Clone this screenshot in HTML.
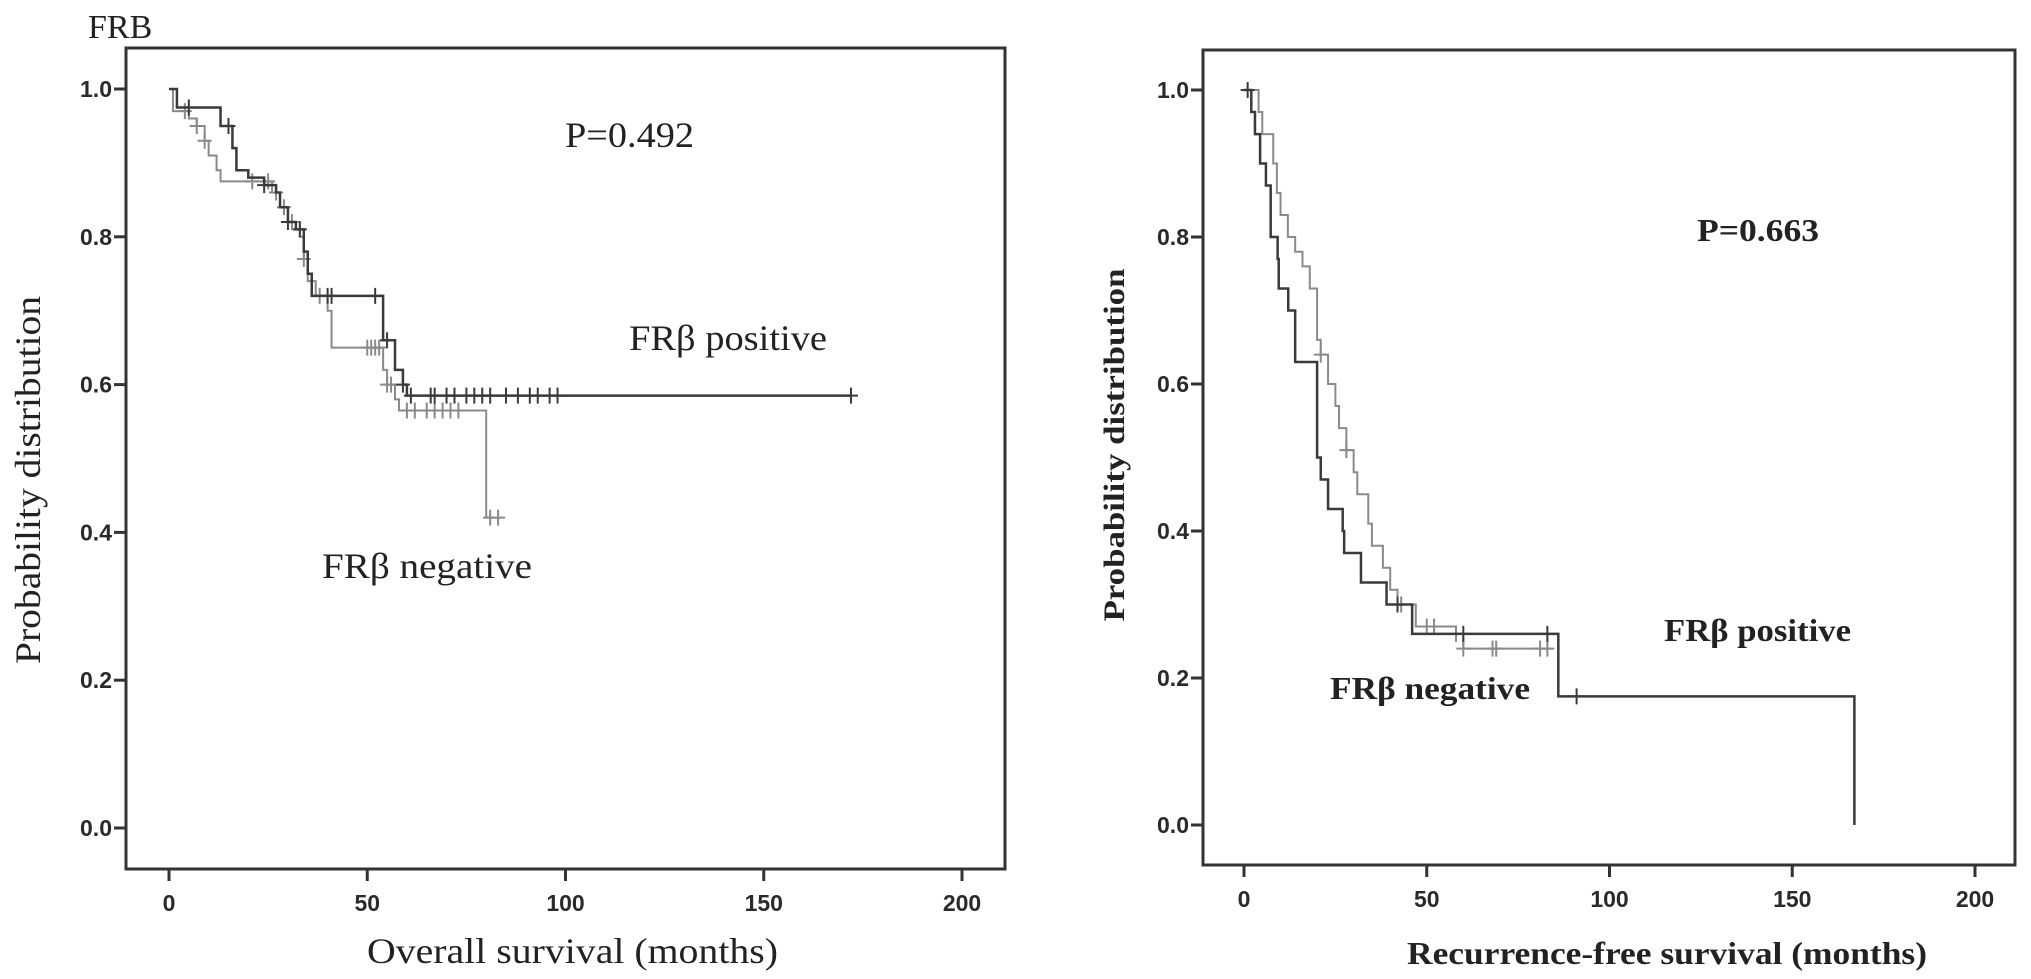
<!DOCTYPE html>
<html><head><meta charset="utf-8"><style>
html,body{margin:0;padding:0;background:#fff;width:2031px;height:979px;overflow:hidden}
svg text.tick{font-family:"Liberation Sans",sans-serif;font-size:23px;fill:#2a2a2a;font-weight:bold}
svg text.ser{font-family:"Liberation Serif",serif;fill:#222}
</style></head><body>
<svg id="chart" width="2031" height="979" viewBox="0 0 2031 979" xmlns="http://www.w3.org/2000/svg">
<text class="ser" x="88" y="38" font-size="34">FRB</text>
<g id="left"></g>
<g id="right"></g>
<text class="ser" x="565" y="147" font-size="36" textLength="129" lengthAdjust="spacingAndGlyphs">P=0.492</text>
<text class="ser" x="629" y="350" font-size="36" textLength="198" lengthAdjust="spacingAndGlyphs">FRβ positive</text>
<text class="ser" x="322" y="578" font-size="36" textLength="210" lengthAdjust="spacingAndGlyphs">FRβ negative</text>
<text class="ser" x="367" y="963" font-size="36" textLength="411" lengthAdjust="spacingAndGlyphs">Overall survival (months)</text>
<text class="ser" transform="translate(40,480) rotate(-90)" text-anchor="middle" font-size="36" textLength="368" lengthAdjust="spacingAndGlyphs">Probability distribution</text>
<text class="ser" x="1697" y="241" font-size="32" font-weight="bold" textLength="122" lengthAdjust="spacingAndGlyphs">P=0.663</text>
<text class="ser" x="1664" y="641" font-size="32" font-weight="bold" textLength="187" lengthAdjust="spacingAndGlyphs">FRβ positive</text>
<text class="ser" x="1330" y="699" font-size="32" font-weight="bold" textLength="200" lengthAdjust="spacingAndGlyphs">FRβ negative</text>
<text class="ser" x="1407" y="964" font-size="32" font-weight="bold" textLength="520" lengthAdjust="spacingAndGlyphs">Recurrence-free survival (months)</text>
<text class="ser" transform="translate(1124,445) rotate(-90)" text-anchor="middle" font-size="30" font-weight="bold" textLength="353" lengthAdjust="spacingAndGlyphs">Probability distribution</text>
</svg>
<script>
const xTicks=[0,50,100,150,200];
const yTicks=[0.0,0.2,0.4,0.6,0.8,1.0];
const yTickLabels=["0.0","0.2","0.4","0.6","0.8","1.0"];
// Overall survival: step times and survival values
const osPosT=[0,2,13,16,17,20,24,27,28,30,32,34,35,36,54,57,59,60,172];
const osPosS=[1.0,0.975,0.95,0.92,0.89,0.88,0.87,0.86,0.84,0.82,0.81,0.78,0.75,0.72,0.66,0.62,0.60,0.585,0.585];
const osPosCT=[5,15,24,30,33,40,41,52,55,59,61,66,67,70,72,75,77,79,81,85,88,91,93,96,98,172];
const osNegT=[0,1,5,7,9,10,12,13,26,28,30,33,34,35,37,40,41,53,54,55,57,58,80,83];
const osNegS=[1.0,0.97,0.96,0.95,0.93,0.91,0.89,0.875,0.86,0.84,0.82,0.80,0.77,0.74,0.72,0.70,0.65,0.65,0.62,0.60,0.58,0.565,0.42,0.42];
const osNegCT=[4,7,9,21,25,27,29,31,34,38,50,51,52,53,55,56,60,62,65,67,69,71,73,81,83];
// Recurrence-free survival
const rfsPosT=[0,2,3,4.4,6,7.3,9.2,9.5,12.1,14,20,21,23,27,27.4,32,39,46,86,167];
const rfsPosS=[1.0,0.97,0.94,0.90,0.87,0.80,0.77,0.73,0.70,0.63,0.50,0.47,0.43,0.40,0.37,0.33,0.30,0.26,0.175,0.0];
const rfsPosCT=[1,42,60,83,91];
const rfsNegT=[0,3,4,5,8,9,10,12,14,16,18,20,21,23,25,26,28,30,31,34,35,38,40,42,47,58,60,84];
const rfsNegS=[1.0,1.0,0.97,0.94,0.90,0.86,0.83,0.80,0.78,0.76,0.73,0.66,0.64,0.60,0.57,0.54,0.51,0.48,0.45,0.41,0.38,0.35,0.32,0.30,0.27,0.26,0.24,0.24];
const rfsNegCT=[21,28,43,50,52,58,60,68,69,81,83];

const NS="http://www.w3.org/2000/svg";
function mk(tag,attrs,parent){const e=document.createElementNS(NS,tag);for(const k in attrs)e.setAttribute(k,attrs[k]);parent.appendChild(e);return e;}
function survAt(T,S,t){let v=S[0];for(let i=0;i<T.length;i++){if(T[i]<=t)v=S[i];}return v;}

function panel(g,cfg){
  const X=t=>cfg.x0+t*cfg.xs, Y=p=>cfg.y0-p*cfg.ys;
  const frame=mk('rect',{x:cfg.L,y:cfg.T,width:cfg.R-cfg.L,height:cfg.B-cfg.T,fill:'none',stroke:'#333','stroke-width':3},g);
  
  
  xTicks.forEach(v=>{
    const l=mk('line',{x1:X(v),x2:X(v),y1:cfg.B,y2:cfg.B+12,stroke:'#333','stroke-width':3},g);
    
    
    const t=mk('text',{x:X(v),y:cfg.B+42,'text-anchor':'middle',class:'tick'},g);
    t.textContent=String(v);
    
    
  });
  yTicks.forEach((v,i)=>{
    const l=mk('line',{x1:cfg.L-12,x2:cfg.L,y1:Y(v),y2:Y(v),stroke:'#333','stroke-width':3},g);
    
    
    const t=mk('text',{x:cfg.L-14,y:Y(v)+8,'text-anchor':'end',class:'tick'},g);
    t.textContent=yTickLabels[i];
    
    
  });
  cfg.series.forEach(s=>{
    let d='M'+X(s.T[0])+','+Y(s.S[0]);
    for(let i=1;i<s.T.length;i++){d+=' H'+X(s.T[i])+' V'+Y(s.S[i]);}
    const p=mk('path',{d:d,fill:'none',stroke:s.color,'stroke-width':s.w},g);
    
    
    s.C.forEach(t=>{
      const v=survAt(s.T,s.S,t);
      const m=mk('path',{d:'M'+(X(t)-7)+','+Y(v)+' h14 M'+X(t)+','+(Y(v)-8)+' v16',stroke:s.color,'stroke-width':2,fill:'none'},g);
      
      
    });
  });
}
panel(document.getElementById('left'),{L:126,R:1005,T:48,B:869,x0:169,xs:3.965,y0:828,ys:739,
  series:[{T:osNegT,S:osNegS,C:osNegCT,color:'#8a8a8a',w:2,name:'os-negative'},
          {T:osPosT,S:osPosS,C:osPosCT,color:'#3a3a3a',w:2.5,name:'os-positive'}]});
panel(document.getElementById('right'),{L:1203,R:2015,T:50,B:865,x0:1244,xs:3.655,y0:825,ys:735,
  series:[{T:rfsNegT,S:rfsNegS,C:rfsNegCT,color:'#8a8a8a',w:2,name:'rfs-negative'},
          {T:rfsPosT,S:rfsPosS,C:rfsPosCT,color:'#3a3a3a',w:2.5,name:'rfs-positive'}]});
</script>
</body></html>
